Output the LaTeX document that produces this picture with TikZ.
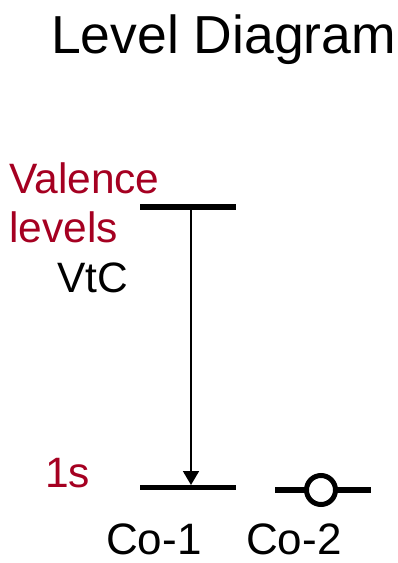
\documentclass[tikz,border=0pt]{standalone}
\usepackage{fontspec}
\setmainfont{Liberation Sans}
\usetikzlibrary{arrows.meta}
\definecolor{levelred}{HTML}{A50021}
\begin{document}
\begin{tikzpicture}[x=1pt,y=-1pt,
  level/.style={line width=5.5pt},
  lbl/.style={inner sep=0pt,anchor=base west,font=\fontsize{42.5}{42.5}\selectfont},
  redlbl/.style={lbl,text=levelred},
  sitelbl/.style={lbl,text depth=0pt,font=\fontsize{44}{44}\selectfont},
  transition/.style={line width=1.8pt,-{Triangle[length=14pt,width=16pt]}},
  hole/.style={circle,draw,fill=white,line width=5pt,minimum size=29pt,inner sep=0pt}]
  \useasboundingbox (0,0) rectangle (398,563);

  % title
  \node[inner sep=0pt,anchor=base west,font=\fontsize{53.5}{53.5}\selectfont] (title) at (51,53) {Level Diagram};

  % energy levels
  \coordinate (v1) at (140,207);
  \coordinate (v2) at (236,207);
  \coordinate (c1a) at (140,487.5);
  \coordinate (c1b) at (236,487.5);
  \coordinate (c2a) at (275,490);
  \coordinate (c2b) at (371,490);
  \draw[level] (v1) -- (v2);
  \draw[level] (c1a) -- (c1b);
  \draw[level] (c2a) -- (c2b);

  % core hole on the second site
  \node[hole] (h) at (321,490) {};

  % valence-to-core transition
  \coordinate (top) at (191,207);
  \coordinate (bot) at (191,485);
  \draw[transition] (top) -- (bot);

  % labels
  \node[redlbl] (val) at (9,193) {Valence};
  \node[redlbl] (lev) at (9,242) {levels};
  \node[lbl] (vtc) at (57,292) {VtC};
  \node[redlbl] (s1) at (45,487) {1s};
  \node[sitelbl] (co1) at (106,554) {Co-1};
  \node[sitelbl] (co2) at (246,554) {Co-2};
\end{tikzpicture}
\end{document}
